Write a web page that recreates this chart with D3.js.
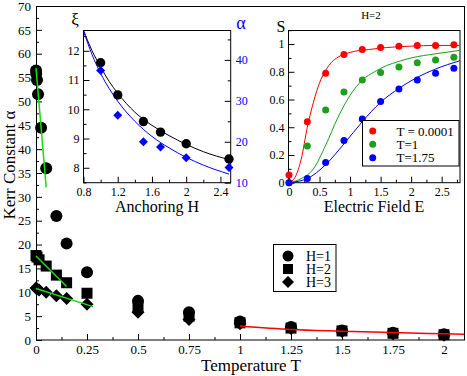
<!DOCTYPE html>
<html>
<head>
<meta charset="utf-8">
<script src="https://cdnjs.cloudflare.com/ajax/libs/d3/7.8.5/d3.min.js"></script>
<style>
body { margin: 0; background: #fff; }
svg text { font-family: "Liberation Serif", "Times New Roman", serif !important; }
</style>
</head>
<body>
<div id="chart"></div>
<script>
// ---- main panel data: Kerr constant vs temperature ----
var tempH1 = [0.0001, 0.001, 0.005, 0.01, 0.025, 0.05, 0.1, 0.15, 0.25, 0.5, 0.75, 1, 1.25, 1.5, 1.75, 2];
var kerrH1 = [56.5, 55.8, 54.5, 51.5, 44.5, 36, 26, 20.2, 14.2, 8.2, 5.8, 3.9, 2.7, 2.0, 1.5, 1.2];
var tempH2 = [0.0001, 0.005, 0.015, 0.05, 0.1, 0.15, 0.25, 0.5, 0.75, 1, 1.25, 1.5, 1.75, 2];
var kerrH2 = [17.7, 17.4, 16.8, 15.5, 13.6, 12.0, 9.8, 7.0, 5.0, 3.6, 2.5, 1.9, 1.4, 1.1];
var tempH3 = [0.0001, 0.005, 0.015, 0.05, 0.1, 0.15, 0.25, 0.5, 0.75, 1, 1.25, 1.5, 1.75, 2];
var kerrH3 = [10.9, 10.7, 10.5, 10.0, 9.3, 8.7, 7.5, 5.8, 4.3, 3.4, 2.4, 1.8, 1.3, 1.0];

// fitted lines
var fitH1T = [0, 0.05], fitH1K = [57, 32];
var fitH2T = [0, 0.15], fitH2K = [17.6, 11.2];
var fitH3T = [0, 0.28], fitH3K = [10.8, 7.0];
var fitHighT = [1, 1.25, 1.5, 1.75, 2, 2.1];
var fitHighK = [2.93, 2.2, 1.85, 1.55, 1.3, 1.2];

var mainXTicks = [0, 0.25, 0.5, 0.75, 1, 1.25, 1.5, 1.75, 2];
var mainYTicks = [0, 5, 10, 15, 20, 25, 30, 35, 40, 45, 50, 55, 60, 65, 70];
var mainLegend = ['H=1', 'H=2', 'H=3'];

// ---- left inset: correlation length and kerr const vs anchoring ----
var anchorH = [1.0, 1.2, 1.5, 1.7, 2.0, 2.5];
var xiVals = [11.59, 10.49, 9.58, 9.22, 8.82, 8.30];
var alphaVals = [37.4, 26.5, 20.0, 18.7, 16.1, 13.7];
var fitAnchorH = [0.8, 0.9, 1.0, 1.1, 1.2, 1.4, 1.6, 1.8, 2.0, 2.2, 2.5];
var fitXi = [12.7, 12.0, 11.45, 10.95, 10.55, 9.9, 9.45, 9.1, 8.8, 8.55, 8.28];
var fitAlpha = [47.0, 41.3, 36.7, 33.0, 29.9, 25.0, 21.3, 18.5, 16.2, 14.3, 12.1];
var inset1XTicks = [0.8, 1.2, 1.6, 2, 2.4];
var inset1YTicks = [8, 9, 10, 11, 12];
var inset1Y2Ticks = [10, 20, 30, 40];

// ---- right inset: order parameter vs field, H=2 ----
var fieldE = [0, 0.3, 0.6, 0.9, 1.2, 1.5, 1.8, 2.1, 2.4, 2.7];
var sLow = [0.055, 0.44, 0.79, 0.925, 0.96, 0.975, 0.985, 0.99, 0.99, 0.995];
var sMid = [0.0, 0.265, 0.525, 0.655, 0.74, 0.795, 0.835, 0.865, 0.885, 0.905];
var sHigh = [0.0, 0.03, 0.145, 0.305, 0.46, 0.585, 0.675, 0.74, 0.79, 0.825];
var fitLowE = [0, 0.1, 0.2, 0.3, 0.4, 0.5, 0.6, 0.7, 0.8, 1.0, 1.3, 1.6, 2.0, 2.4, 2.8];
var fitLowS = [0, 0.04, 0.17, 0.4, 0.58, 0.72, 0.81, 0.87, 0.905, 0.94, 0.96, 0.975, 0.985, 0.99, 0.99];
var fitMidE = [0, 0.2, 0.4, 0.6, 0.8, 1.0, 1.2, 1.4, 1.6, 1.8, 2.0, 2.4, 2.8];
var fitMidS = [0, 0.03, 0.1, 0.27, 0.47, 0.63, 0.74, 0.8, 0.845, 0.875, 0.9, 0.93, 0.955];
var fitHighE = [0, 0.3, 0.6, 0.9, 1.2, 1.5, 1.8, 2.1, 2.4, 2.8];
var fitHighS = [0, 0.03, 0.13, 0.28, 0.44, 0.58, 0.68, 0.76, 0.82, 0.88];
var inset2Legend = ['T = 0.0001', 'T=1', 'T=1.75'];
var inset2Colors = ['#ff0000', '#1e9e1e', '#0000ff'];
var inset2XTicks = [0, 0.5, 1, 1.5, 2, 2.5];
var inset2YTicks = [0, 0.2, 0.4, 0.6, 0.8, 1];

var svgWidth = 467, svgHeight = 376;
var green = '#10e010';
var serif = '"Liberation Serif", "Times New Roman", serif';

var svg = d3.select('#chart').append('svg')
	.attr('width', svgWidth)
	.attr('height', svgHeight)
	.attr('font-family', serif);

var zip = (a, b) => a.map((v, i) => [v, b[i]]);

// inward ticks, labels outside, no domain line
function styleAxis(g, size, color) {
	g.attr('font-family', serif);
	g.select('.domain').remove();
	g.selectAll('line').attr('stroke', color || '#000');
	g.selectAll('text')
		.style('font-family', serif)
		.attr('font-size', size)
		.attr('fill', color || '#000');
}

function diamondPath(cx, cy, r) {
	return `M${cx},${cy - r}L${cx + r},${cy}L${cx},${cy + r}L${cx - r},${cy}Z`;
}

// ================= main panel =================
var xMain = d3.scaleLinear().domain([0, 2.1]).range([36, 464.4]);
var yMain = d3.scaleLinear().domain([0, 70]).range([340, 6]);

var mainGroup = svg.append('g');

mainGroup.append('g')
	.attr('transform', 'translate(0,340)')
	.call(d3.axisBottom(xMain).tickValues(d3.range(0.125, 2.1, 0.25)).tickSize(-3).tickFormat(''))
	.call(g => styleAxis(g, 13));
mainGroup.append('g')
	.attr('transform', 'translate(0,340)')
	.call(d3.axisBottom(xMain).tickValues(mainXTicks).tickSize(-6).tickPadding(5).tickFormat(d => String(d)))
	.call(g => styleAxis(g, 13));
mainGroup.append('g')
	.attr('transform', 'translate(36,0)')
	.call(d3.axisLeft(yMain).tickValues(d3.range(2.5, 70, 5)).tickSize(-3).tickFormat(''))
	.call(g => styleAxis(g, 13));
mainGroup.append('g')
	.attr('transform', 'translate(36,0)')
	.call(d3.axisLeft(yMain).tickValues(mainYTicks).tickSize(-6).tickPadding(5).tickFormat(d => String(d)))
	.call(g => styleAxis(g, 13));

mainGroup.append('rect')
	.attr('x', 36.5).attr('y', 6.5)
	.attr('width', 428).attr('height', 333.5)
	.attr('fill', 'none').attr('stroke', '#000');

// markers
mainGroup.append('g').selectAll('circle')
	.data(zip(tempH1, kerrH1))
	.enter().append('circle')
	.attr('cx', d => xMain(d[0]))
	.attr('cy', d => yMain(d[1]))
	.attr('r', 6)
	.attr('fill', '#000');

mainGroup.append('g').selectAll('rect')
	.data(zip(tempH2, kerrH2))
	.enter().append('rect')
	.attr('x', d => xMain(d[0]) - 5.5)
	.attr('y', d => yMain(d[1]) - 5.5)
	.attr('width', 11).attr('height', 11)
	.attr('fill', '#000');

mainGroup.append('g').selectAll('path')
	.data(zip(tempH3, kerrH3))
	.enter().append('path')
	.attr('d', d => diamondPath(xMain(d[0]), yMain(d[1]), 6.5))
	.attr('fill', '#000');

// fit lines drawn over the markers
var mainLine = d3.line().x(d => xMain(d[0])).y(d => yMain(d[1])).curve(d3.curveMonotoneX);
[[fitH1T, fitH1K], [fitH2T, fitH2K], [fitH3T, fitH3K]].forEach(f => {
	mainGroup.append('path')
		.attr('d', mainLine(zip(f[0], f[1])))
		.attr('fill', 'none').attr('stroke', green).attr('stroke-width', 1.5);
});
mainGroup.append('path')
	.attr('d', mainLine(zip(fitHighT, fitHighK)))
	.attr('fill', 'none').attr('stroke', '#ff0000').attr('stroke-width', 1.5);

// axis titles
svg.append('text')
	.attr('transform', 'translate(15,165)rotate(-90)')
	.attr('text-anchor', 'middle')
	.attr('font-size', 17)
	.text('Kerr Constant α');
svg.append('text')
	.attr('x', 251).attr('y', 371)
	.attr('text-anchor', 'middle')
	.attr('font-size', 17)
	.text('Temperature T');

// legend
var legend = svg.append('g');
legend.append('rect')
	.attr('x', 273.5).attr('y', 244.5)
	.attr('width', 62.5).attr('height', 47)
	.attr('fill', '#fff').attr('stroke', '#000');
var legY = d3.scalePoint().domain(mainLegend).range([256, 282]);
legend.append('circle')
	.attr('cx', 288).attr('cy', legY('H=1')).attr('r', 5.5);
legend.append('rect')
	.attr('x', 283).attr('y', legY('H=2') - 5).attr('width', 10).attr('height', 10);
legend.append('path')
	.attr('d', diamondPath(288, legY('H=3'), 6));
legend.selectAll('text.leg')
	.data(mainLegend)
	.enter().append('text')
	.attr('x', 306)
	.attr('y', d => legY(d) + 5)
	.attr('font-size', 14)
	.text(d => d);

// ================= left inset =================
var x1 = d3.scaleLinear().domain([0.8, 2.52]).range([83.5, 230.7]);
var y1 = d3.scaleLinear().domain([7.49, 12.71]).range([182.7, 30]);
var y1b = d3.scaleLinear().domain([10, 47.3]).range([182.7, 30]);

var inset1 = svg.append('g');
inset1.append('rect')
	.attr('x', 83.5).attr('y', 30).attr('width', 147.2).attr('height', 152.7)
	.attr('fill', '#fff');

inset1.append('g')
	.attr('transform', 'translate(0,182.7)')
	.call(d3.axisBottom(x1).tickValues([1.0, 1.4, 1.8, 2.2]).tickSize(-3).tickFormat(''))
	.call(g => styleAxis(g, 12));
inset1.append('g')
	.attr('transform', 'translate(0,182.7)')
	.call(d3.axisBottom(x1).tickValues(inset1XTicks).tickSize(-6).tickPadding(5).tickFormat(d => String(d)))
	.call(g => styleAxis(g, 12));
inset1.append('g')
	.attr('transform', 'translate(83.5,0)')
	.call(d3.axisLeft(y1).tickValues([7.5, 8.5, 9.5, 10.5, 11.5, 12.5]).tickSize(-3).tickFormat(''))
	.call(g => styleAxis(g, 12));
inset1.append('g')
	.attr('transform', 'translate(83.5,0)')
	.call(d3.axisLeft(y1).tickValues(inset1YTicks).tickSize(-6).tickPadding(4).tickFormat(d => String(d)))
	.call(g => styleAxis(g, 12));
inset1.append('g')
	.attr('transform', 'translate(230.7,0)')
	.call(d3.axisRight(y1b).tickValues([15, 25, 35, 45]).tickSize(-3).tickFormat(''))
	.call(g => styleAxis(g, 12, '#000'));
inset1.append('g')
	.attr('transform', 'translate(230.7,0)')
	.call(d3.axisRight(y1b).tickValues(inset1Y2Ticks).tickSize(-6).tickPadding(5).tickFormat(d => String(d)))
	.call(g => styleAxis(g, 12, '#000'))
	.call(g => g.selectAll('text').attr('fill', '#0000ff'));

inset1.append('rect')
	.attr('x', 83.5).attr('y', 30.5).attr('width', 147.2).attr('height', 152.2)
	.attr('fill', 'none').attr('stroke', '#000');

var clip1 = svg.append('clipPath').attr('id', 'clip1')
	.append('rect').attr('x', 83.5).attr('y', 30).attr('width', 147.2).attr('height', 152.7);

var xiLine = d3.line().x(d => x1(d[0])).y(d => y1(d[1])).curve(d3.curveMonotoneX);
var alphaLine = d3.line().x(d => x1(d[0])).y(d => y1b(d[1])).curve(d3.curveMonotoneX);
inset1.append('path')
	.attr('clip-path', 'url(#clip1)')
	.attr('d', xiLine(zip(fitAnchorH, fitXi)))
	.attr('fill', 'none').attr('stroke', '#000').attr('stroke-width', 1);
inset1.append('path')
	.attr('clip-path', 'url(#clip1)')
	.attr('d', alphaLine(zip(fitAnchorH, fitAlpha)))
	.attr('fill', 'none').attr('stroke', '#0000ff').attr('stroke-width', 1);

inset1.append('g').selectAll('circle')
	.data(zip(anchorH, xiVals))
	.enter().append('circle')
	.attr('cx', d => x1(d[0]))
	.attr('cy', d => y1(d[1]))
	.attr('r', 4.7)
	.attr('fill', '#000');
inset1.append('g').selectAll('path')
	.data(zip(anchorH, alphaVals))
	.enter().append('path')
	.attr('d', d => diamondPath(x1(d[0]), y1b(d[1]), 4.5))
	.attr('fill', '#0000ff');

inset1.append('text')
	.attr('x', 75).attr('y', 25)
	.attr('text-anchor', 'middle')
	.attr('font-size', 17)
	.text('ξ');
inset1.append('text')
	.attr('x', 241).attr('y', 29)
	.attr('text-anchor', 'middle')
	.attr('font-size', 18)
	.attr('fill', '#0000ff')
	.text('α');
inset1.append('text')
	.attr('x', 157).attr('y', 212)
	.attr('text-anchor', 'middle')
	.attr('font-size', 16)
	.text('Anchoring H');

// ================= right inset =================
var x2 = d3.scaleLinear().domain([0, 2.8]).range([289, 460]);
var y2 = d3.scaleLinear().domain([0, 1.1]).range([182.7, 30.2]);

var inset2 = svg.append('g');
inset2.append('rect')
	.attr('x', 288.5).attr('y', 30.5).attr('width', 171.5).attr('height', 152.2)
	.attr('fill', '#fff');

inset2.append('g')
	.attr('transform', 'translate(0,182.7)')
	.call(d3.axisBottom(x2).tickValues([0.25, 0.75, 1.25, 1.75, 2.25, 2.75]).tickSize(-3).tickFormat(''))
	.call(g => styleAxis(g, 12));
inset2.append('g')
	.attr('transform', 'translate(0,182.7)')
	.call(d3.axisBottom(x2).tickValues(inset2XTicks).tickSize(-6).tickPadding(5).tickFormat(d => String(d)))
	.call(g => styleAxis(g, 12));
inset2.append('g')
	.attr('transform', 'translate(288.5,0)')
	.call(d3.axisLeft(y2).tickValues([0.1, 0.3, 0.5, 0.7, 0.9, 1.1]).tickSize(-3).tickFormat(''))
	.call(g => styleAxis(g, 12));
inset2.append('g')
	.attr('transform', 'translate(288.5,0)')
	.call(d3.axisLeft(y2).tickValues(inset2YTicks).tickSize(-6).tickPadding(4).tickFormat(d => String(d)))
	.call(g => styleAxis(g, 12));

inset2.append('rect')
	.attr('x', 288.5).attr('y', 30.5).attr('width', 171.5).attr('height', 152.2)
	.attr('fill', 'none').attr('stroke', '#000');

var sLine = d3.line().x(d => x2(d[0])).y(d => y2(d[1])).curve(d3.curveMonotoneX);
[[fitLowE, fitLowS], [fitMidE, fitMidS], [fitHighE, fitHighS]].forEach((f, i) => {
	inset2.append('path')
		.attr('d', sLine(zip(f[0], f[1])))
		.attr('fill', 'none').attr('stroke', inset2Colors[i]).attr('stroke-width', 1);
});
[sLow, sMid, sHigh].forEach((s, i) => {
	inset2.append('g').selectAll('circle')
		.data(zip(fieldE, s))
		.enter().append('circle')
		.attr('cx', d => x2(d[0]))
		.attr('cy', d => y2(d[1]))
		.attr('r', 3.5)
		.attr('fill', inset2Colors[i]);
});

// legend
var leg2 = inset2.append('g');
leg2.append('rect')
	.attr('x', 362.5).attr('y', 120.5).attr('width', 96.5).attr('height', 45.5)
	.attr('fill', '#fff').attr('stroke', '#000');
var leg2Y = d3.scalePoint().domain(inset2Legend).range([131, 157.7]);
leg2.selectAll('circle')
	.data(inset2Legend)
	.enter().append('circle')
	.attr('cx', 372.7)
	.attr('cy', d => leg2Y(d))
	.attr('r', 3.5)
	.attr('fill', (d, i) => inset2Colors[i]);
leg2.selectAll('text')
	.data(inset2Legend)
	.enter().append('text')
	.attr('x', 396.5)
	.attr('y', d => leg2Y(d) + 4.5)
	.attr('font-size', 13)
	.text(d => d);

inset2.append('text')
	.attr('x', 371).attr('y', 18.5)
	.attr('text-anchor', 'middle')
	.attr('font-size', 11)
	.text('H=2');
inset2.append('text')
	.attr('x', 281).attr('y', 31.5)
	.attr('text-anchor', 'middle')
	.attr('font-size', 16)
	.text('S');
inset2.append('text')
	.attr('x', 374).attr('y', 212)
	.attr('text-anchor', 'middle')
	.attr('font-size', 16)
	.text('Electric Field E');
</script>
</body>
</html>
